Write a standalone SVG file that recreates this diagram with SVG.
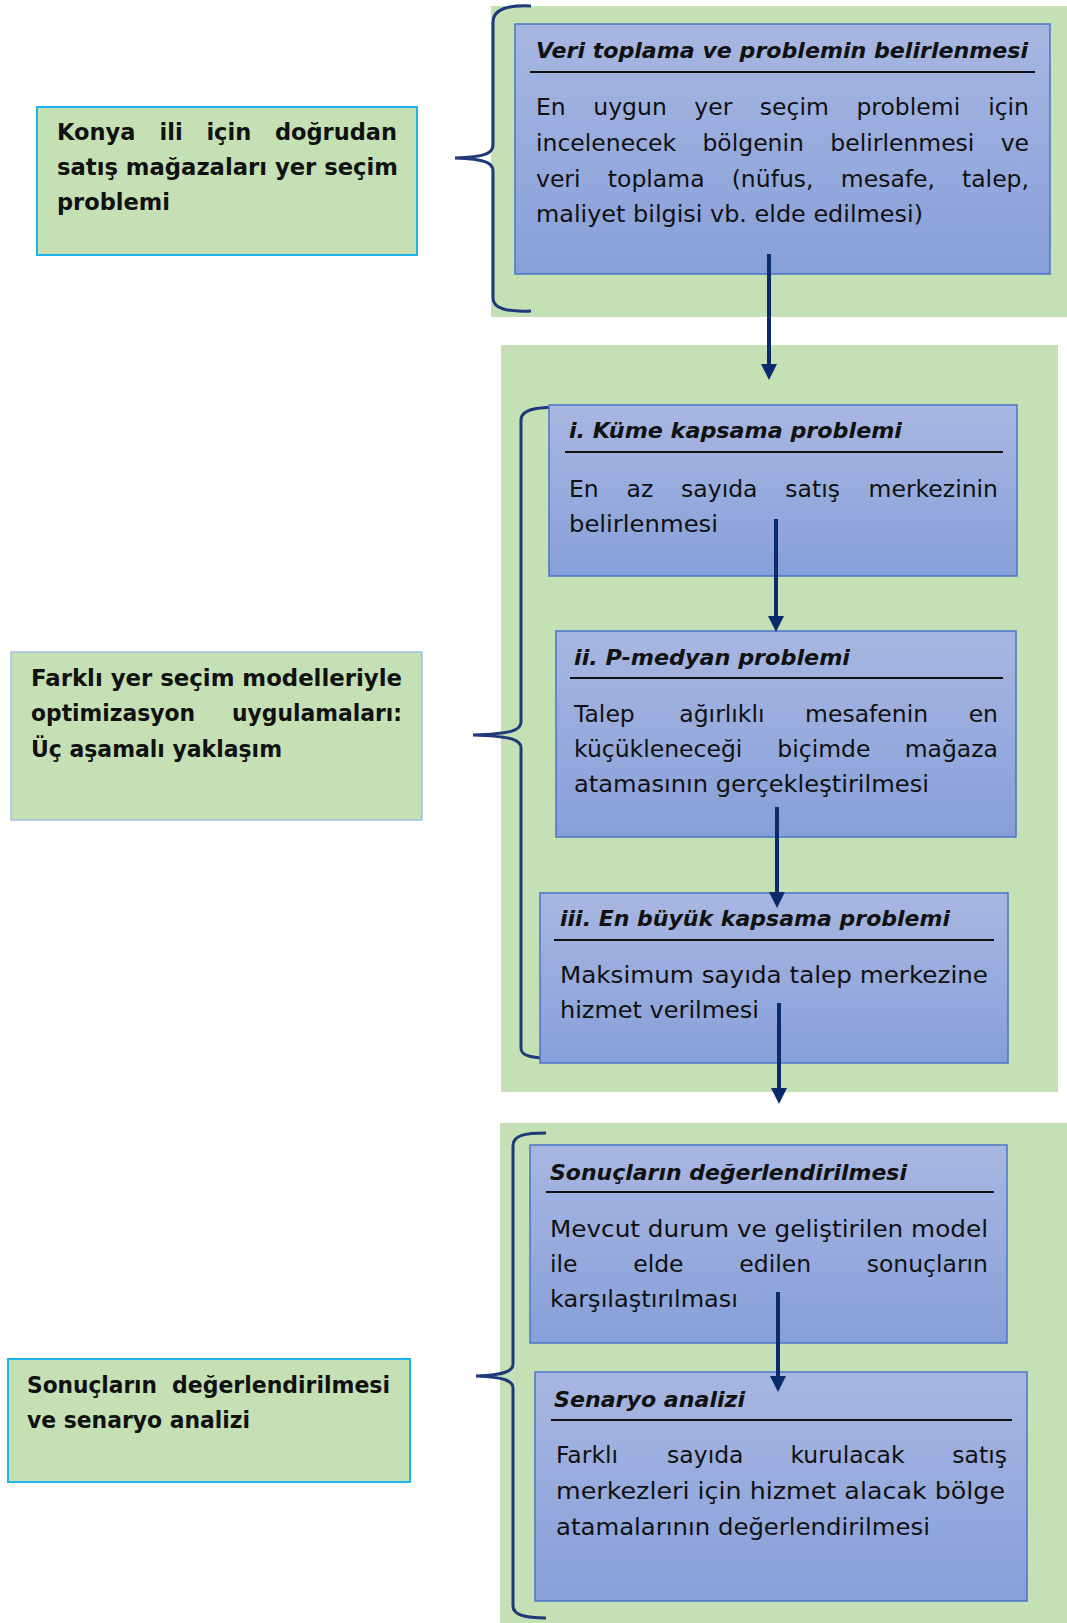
<svg xmlns="http://www.w3.org/2000/svg" width="1067" height="1623" viewBox="0 0 1067 1623">
<defs>
<linearGradient id="bg" x1="0" y1="0" x2="0" y2="1">
<stop offset="0" stop-color="#a8b7e1"/>
<stop offset="1" stop-color="#879fd9"/>
</linearGradient>
<marker id="ah" markerUnits="userSpaceOnUse" markerWidth="16" markerHeight="16" refX="8" refY="8" orient="auto">
<path d="M0,0 L16,8 L0,16 z" fill="#0b2a6b"/>
</marker>
<style>
.g{fill:#c5e0b4}
.bx{fill:url(#bg);stroke:#4a74c8;stroke-width:1.5}
.lb{fill:#c5e0b4;stroke:#1fb5ea;stroke-width:2}
.lb2{fill:#c5e0b4;stroke:#9dc3e6;stroke-width:1.5}
.t{font-family:'DejaVu Sans','Liberation Sans',sans-serif;font-size:23.5px;fill:#111}
.h{font-style:italic;font-weight:bold;font-size:21px}
.b{font-weight:bold;font-size:22.5px}
.e{text-anchor:end}
.ul{stroke:#111;stroke-width:2}
.br{fill:none;stroke:#1f3a78;stroke-width:3}
.ar{stroke:#0b2a6b;stroke-width:4;marker-end:url(#ah)}
</style>
</defs>
<rect class="g" x="491" y="6" width="576" height="311"/>
<rect class="g" x="501" y="345" width="557" height="747"/>
<rect class="g" x="500" y="1123" width="567" height="500"/>
<g id="brackets">
<path class="br" d="M531,6 C508,5 493,9 493,22 L493,145 C493,153 486,157 455,158 C486,159 493,163 493,171 L493,298 C493,309 508,312 531,311"/>
<path class="br" d="M568,407 C540,407 521,408 521,420 L521,722 C521,730 512,734 473,735 C512,736 521,740 521,748 L521,1048 C521,1056 528,1058 568,1060"/>
<path class="br" d="M546,1133 C525,1133 513,1135 513,1146 L513,1364 C513,1371 505,1375 476,1376 C505,1377 513,1381 513,1388 L513,1606 C513,1615 525,1618 546,1618"/>
</g>
<g id="left1">
<rect class="lb" x="37" y="107" width="380" height="148"/>
<text class="t b" y="140"><tspan x="57">Konya</tspan><tspan x="159.5">ili</tspan><tspan x="206.4">için</tspan></text>
<text class="t b e" x="397" y="140">doğrudan</text>
<text class="t b" x="57" y="175" textLength="341" lengthAdjust="spacingAndGlyphs">satış mağazaları yer seçim</text>
<text class="t b" x="57" y="210">problemi</text>
</g>
<g id="box1">
<rect class="bx" x="515" y="24" width="535" height="250"/>
<text class="t h" x="536" y="58" textLength="492" lengthAdjust="spacingAndGlyphs">Veri toplama ve problemin belirlenmesi</text>
<line class="ul" x1="530" y1="72" x2="1035" y2="72"/>
<text class="t" y="115"><tspan x="536">En</tspan><tspan x="593.3">uygun</tspan><tspan x="694.3">yer</tspan><tspan x="759.8">seçim</tspan><tspan x="856.4">problemi</tspan></text>
<text class="t e" x="1029" y="115">için</text>
<text class="t" y="151"><tspan x="536">incelenecek</tspan><tspan x="702.4">bölgenin</tspan><tspan x="830.3">belirlenmesi</tspan></text>
<text class="t e" x="1029" y="151">ve</text>
<text class="t" y="187"><tspan x="536">veri</tspan><tspan x="607.8">toplama</tspan><tspan x="731.7">(nüfus,</tspan><tspan x="840.8">mesafe,</tspan></text>
<text class="t e" x="1029" y="187">talep,</text>
<text class="t" x="536" y="222" textLength="387" lengthAdjust="spacingAndGlyphs">maliyet bilgisi vb. elde edilmesi)</text>
</g>
<g id="boxI">
<rect class="bx" x="549" y="405" width="468" height="171"/>
<text class="t h" x="569" y="438" textLength="333" lengthAdjust="spacingAndGlyphs">i. Küme kapsama problemi</text>
<line class="ul" x1="565" y1="452" x2="1003" y2="452"/>
<text class="t" y="497"><tspan x="569">En</tspan><tspan x="626.6">az</tspan><tspan x="681.1">sayıda</tspan><tspan x="785.3">satış</tspan></text>
<text class="t e" x="998" y="497">merkezinin</text>
<text class="t" x="569" y="532" textLength="149" lengthAdjust="spacingAndGlyphs">belirlenmesi</text>
</g>
<g id="left2">
<rect class="lb2" x="11" y="652" width="411" height="168"/>
<text class="t b" x="31" y="686" textLength="371" lengthAdjust="spacingAndGlyphs">Farklı yer seçim modelleriyle</text>
<text class="t b" x="31" y="721" textLength="164" lengthAdjust="spacingAndGlyphs">optimizasyon</text>
<text class="t b" x="232" y="721" textLength="170" lengthAdjust="spacingAndGlyphs">uygulamaları:</text>
<text class="t b" x="31" y="757" textLength="251" lengthAdjust="spacingAndGlyphs">Üç aşamalı yaklaşım</text>
</g>
<g id="boxII">
<rect class="bx" x="556" y="631" width="460" height="206"/>
<text class="t h" x="574" y="665" textLength="276" lengthAdjust="spacingAndGlyphs">ii. P-medyan problemi</text>
<line class="ul" x1="570" y1="678" x2="1003" y2="678"/>
<text class="t" y="722"><tspan x="574">Talep</tspan><tspan x="679.3">ağırlıklı</tspan><tspan x="805.1">mesafenin</tspan></text>
<text class="t e" x="998" y="722">en</text>
<text class="t" y="757"><tspan x="574">küçükleneceği</tspan><tspan x="777.3">biçimde</tspan></text>
<text class="t e" x="998" y="757">mağaza</text>
<text class="t" x="574" y="792" textLength="355" lengthAdjust="spacingAndGlyphs">atamasının gerçekleştirilmesi</text>
</g>
<g id="boxIII">
<rect class="bx" x="540" y="893" width="468" height="170"/>
<text class="t h" x="560" y="926" textLength="390" lengthAdjust="spacingAndGlyphs">iii. En büyük kapsama problemi</text>
<line class="ul" x1="554" y1="940" x2="994" y2="940"/>
<text class="t" x="560" y="983" textLength="428" lengthAdjust="spacingAndGlyphs">Maksimum sayıda talep merkezine</text>
<text class="t" x="560" y="1018" textLength="199" lengthAdjust="spacingAndGlyphs">hizmet verilmesi</text>
</g>
<g id="boxSonuc">
<rect class="bx" x="530" y="1145" width="477" height="198"/>
<text class="t h" x="550" y="1180" textLength="357" lengthAdjust="spacingAndGlyphs">Sonuçların değerlendirilmesi</text>
<line class="ul" x1="546" y1="1192" x2="994" y2="1192"/>
<text class="t" x="550" y="1237" textLength="438" lengthAdjust="spacingAndGlyphs">Mevcut durum ve geliştirilen model</text>
<text class="t" y="1272"><tspan x="550">ile</tspan><tspan x="633.2">elde</tspan><tspan x="739.3">edilen</tspan></text>
<text class="t e" x="988" y="1272">sonuçların</text>
<text class="t" x="550" y="1307" textLength="188" lengthAdjust="spacingAndGlyphs">karşılaştırılması</text>
</g>
<g id="left3">
<rect class="lb" x="8" y="1359" width="402" height="123"/>
<text class="t b" x="27" y="1393" textLength="130" lengthAdjust="spacingAndGlyphs">Sonuçların</text>
<text class="t b" x="172" y="1393" textLength="218" lengthAdjust="spacingAndGlyphs">değerlendirilmesi</text>
<text class="t b" x="27" y="1428" textLength="223" lengthAdjust="spacingAndGlyphs">ve senaryo analizi</text>
</g>
<g id="boxSenaryo">
<rect class="bx" x="535" y="1372" width="492" height="229"/>
<text class="t h" x="554" y="1407" textLength="191" lengthAdjust="spacingAndGlyphs">Senaryo analizi</text>
<line class="ul" x1="551" y1="1420" x2="1012" y2="1420"/>
<text class="t" y="1463"><tspan x="556">Farklı</tspan><tspan x="667.1">sayıda</tspan><tspan x="790.4">kurulacak</tspan></text>
<text class="t e" x="1007" y="1463">satış</text>
<text class="t" x="556" y="1499" textLength="449" lengthAdjust="spacingAndGlyphs">merkezleri için hizmet alacak bölge</text>
<text class="t" x="556" y="1535" textLength="374" lengthAdjust="spacingAndGlyphs">atamalarının değerlendirilmesi</text>
</g>
<g id="connectors">
<line class="ar" x1="769" y1="254" x2="769" y2="372"/>
<line class="ar" x1="776" y1="519" x2="776" y2="624"/>
<line class="ar" x1="777" y1="807" x2="777" y2="900"/>
<line class="ar" x1="779" y1="1003" x2="779" y2="1096"/>
<line class="ar" x1="778" y1="1292" x2="778" y2="1384"/>
</g>
</svg>
